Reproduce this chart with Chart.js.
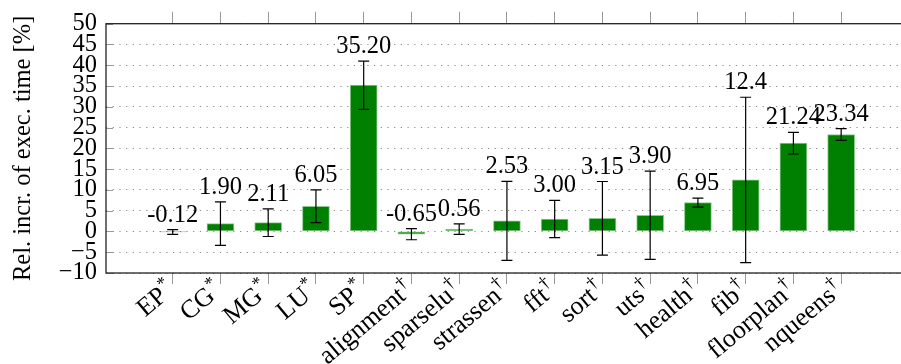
<!DOCTYPE html>
<html>
<head>
<meta charset="utf-8">
<script src="https://cdn.jsdelivr.net/npm/chart.js@4/dist/chart.umd.min.js"></script>
<style>
html,body{margin:0;padding:0;background:#fff;overflow:hidden;width:901px;height:364px;}
canvas{display:block;}
</style>
</head>
<body>
<canvas id="c" width="908" height="364"></canvas>
<script>
const categories = ['EP','CG','MG','LU','SP','alignment','sparselu','strassen','fft','sort','uts','health','fib','floorplan','nqueens'];
const marks = ['*','*','*','*','*','†','†','†','†','†','†','†','†','†','†'];
const values = [-0.12,1.90,2.11,6.05,35.20,-0.65,0.56,2.53,3.00,3.15,3.90,6.95,12.4,21.24,23.34];
const valueLabels = ['-0.12','1.90','2.11','6.05','35.20','-0.65','0.56','2.53','3.00','3.15','3.90','6.95','12.4','21.24','23.34'];
const errors = [0.58,5.23,3.33,3.95,5.8,1.35,1.24,9.5,4.48,8.87,10.63,1.08,19.9,2.6,1.4];
const yTicks = [-10,-5,0,5,10,15,20,25,30,35,40,45,50];
const yTitle = 'Rel. incr. of exec. time [%]';

const FONT = "'Liberation Serif', 'DejaVu Serif', serif";

const catTicks = s => { s.ticks = categories.map((c,i)=>({value:i})); };

const errorPlugin = {
  id: 'errs',
  afterDatasetsDraw(chart) {
    const ctx = chart.ctx, xs = chart.scales.x, ys = chart.scales.y;
    ctx.save();
    ctx.strokeStyle = '#000';
    ctx.lineWidth = 1.2;
    ctx.fillStyle = '#000';
    ctx.font = "24.5px " + FONT;
    ctx.textAlign = 'center';
    ctx.textBaseline = 'alphabetic';
    values.forEach((v,i) => {
      const x = xs.getPixelForValue(i);
      const yt = ys.getPixelForValue(v + errors[i]);
      const yb = ys.getPixelForValue(v - errors[i]);
      ctx.beginPath();
      ctx.moveTo(x, yt); ctx.lineTo(x, yb);
      ctx.moveTo(x-5.5, yt); ctx.lineTo(x+5.5, yt);
      ctx.moveTo(x-5.5, yb); ctx.lineTo(x+5.5, yb);
      ctx.stroke();
      ctx.fillText(valueLabels[i], x, yt - 8);
    });
    ctx.restore();
  },
  afterDraw(chart) {
    const ctx = chart.ctx, a = chart.chartArea, ys = chart.scales.y, xs = chart.scales.x;
    ctx.save();
    ctx.strokeStyle = '#999';
    ctx.lineWidth = 1;
    yTicks.forEach(t => {
      const y = Math.round(ys.getPixelForValue(t)) + 0.5;
      ctx.beginPath();
      ctx.moveTo(a.left, y); ctx.lineTo(a.left + 7, y);
      ctx.moveTo(a.right, y); ctx.lineTo(a.right - 7, y);
      ctx.stroke();
    });
    ctx.strokeStyle = '#222';
    ctx.lineWidth = 1.3;
    ctx.strokeRect(a.left, a.top, a.right - a.left, a.bottom - a.top);
    // rotated category labels with superscript marks
    ctx.fillStyle = '#000';
    ctx.textBaseline = 'alphabetic';
    categories.forEach((c,i) => {
      const x = xs.getPixelForValue(i);
      ctx.save();
      ctx.translate(x + 3, a.bottom + 19);
      ctx.rotate(-40 * Math.PI / 180);
      ctx.font = "18px " + FONT;
      const sw = ctx.measureText(marks[i]).width;
      ctx.textAlign = 'left';
      ctx.fillText(marks[i], -sw, -10);
      ctx.font = "26px " + FONT;
      ctx.textAlign = 'right';
      ctx.fillText(c, -sw - 0.5, 0);
      ctx.restore();
    });
    ctx.restore();
  }
};

new Chart(document.getElementById('c'), {
  type: 'bar',
  data: {
    datasets: [{
      data: values.map((v,i)=>({x:i, y:v})),
      backgroundColor: 'rgb(0,128,0)',
      borderColor: 'rgb(140,200,140)',
      borderWidth: 1,
      borderSkipped: false,
      barThickness: 27
    }]
  },
  options: {
    responsive: false,
    animation: false,
    events: [],
    layout: { padding: 0 },
    plugins: { legend: { display: false }, tooltip: { enabled: false } },
    scales: {
      x: {
        type: 'linear',
        position: 'bottom',
        offset: false,
        min: -1.397, max: 15.40,
        afterBuildTicks: catTicks,
        afterFit: s => { s.height = 91; },
        grid: { offset: false, drawOnChartArea: false, drawTicks: true, tickLength: 11, color: '#999', lineWidth: 1 },
        border: { display: false },
        ticks: { display: false, autoSkip: false }
      },
      x2: {
        type: 'linear',
        position: 'top',
        offset: false,
        min: -1.397, max: 15.40,
        afterBuildTicks: catTicks,
        afterFit: s => { s.height = 15; },
        grid: { offset: false, drawOnChartArea: false, drawTicks: true, tickLength: 12, color: '#999', lineWidth: 1 },
        border: { display: false },
        ticks: { display: false, autoSkip: false }
      },
      y: {
        min: -10, max: 50,
        afterBuildTicks: s => { s.ticks = yTicks.map(v=>({value:v})); },
        afterFit: s => { s.width = 106; },
        grid: { color: '#888', lineWidth: 1, drawTicks: false },
        border: { display: false, dash: [1.2, 5.5] },
        ticks: {
          autoSkip: false,
          padding: 9, color: '#000', font: { family: FONT, size: 24.5 },
          callback: v => v < 0 ? '\u2212' + Math.abs(v) : String(v)
        },
        title: { display: true, text: yTitle, color: '#000', font: { family: FONT, size: 24.5 }, padding: { top: 9, bottom: 0 } }
      }
    }
  },
  plugins: [errorPlugin]
});
</script>
</body>
</html>
